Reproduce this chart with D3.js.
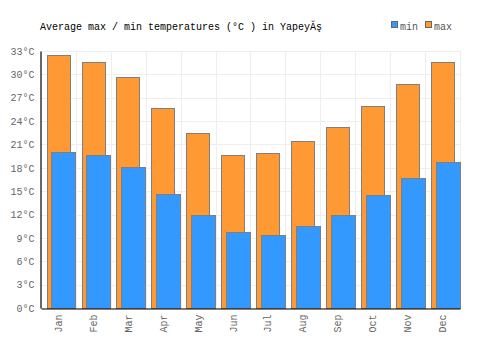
<!DOCTYPE html>
<html>
<head>
<meta charset="utf-8">
<script src="https://cdn.jsdelivr.net/npm/d3@7"></script>
<style>
  body { margin: 0; background: #fff; }
  text { font-family: "Liberation Mono", monospace; }
</style>
</head>
<body>
<div id="chart"></div>
<script>
var months = ["Jan","Feb","Mar","Apr","May","Jun","Jul","Aug","Sep","Oct","Nov","Dec"];
var maxTemps = [32.5, 31.6, 29.7, 25.7, 22.5, 19.7, 19.9, 21.5, 23.2, 25.9, 28.8, 31.6];
var minTemps = [20.0, 19.7, 18.1, 14.7, 11.9, 9.7, 9.35, 10.5, 11.9, 14.5, 16.7, 18.8];
var yTicks = [0, 3, 6, 9, 12, 15, 18, 21, 24, 27, 30, 33];

var width = 500, height = 350;
var margin = {top: 51, right: 40, bottom: 42, left: 41};
var fontFam = "Liberation Mono, monospace";

var svg = d3.select("#chart").append("svg")
  .attr("width", width)
  .attr("height", height);

var x = d3.scaleBand()
  .domain(months)
  .range([margin.left, width - margin.right]);

var y = d3.scaleLinear()
  .domain([0, 33])
  .range([height - margin.bottom, margin.top]);

var bw = x.bandwidth();

// grid
var grid = svg.append("g").attr("stroke", "#eeeeee").attr("stroke-width", 1);
grid.selectAll("line.h").data(yTicks).enter().append("line")
  .attr("x1", margin.left).attr("x2", width - margin.right)
  .attr("y1", function(d) { return Math.round(y(d)) + 0.5; })
  .attr("y2", function(d) { return Math.round(y(d)) + 0.5; });
grid.selectAll("line.v").data(months).enter().append("line")
  .attr("x1", function(d) { return Math.round(x(d) + bw) + 0.5; })
  .attr("x2", function(d) { return Math.round(x(d) + bw) + 0.5; })
  .attr("y1", margin.top).attr("y2", height - margin.bottom);

// max bars (behind)
svg.append("g").selectAll("rect").data(maxTemps).enter().append("rect")
  .attr("x", function(d, i) { return Math.round(x(months[i]) + bw * 0.16) + 0.5; })
  .attr("width", Math.round(bw * 0.67))
  .attr("y", function(d) { return Math.round(y(d)) + 0.5; })
  .attr("height", function(d) { return Math.round(y(0)) - Math.round(y(d)); })
  .attr("fill", "#ff9933")
  .attr("stroke", "#7f7f7f")
  .attr("stroke-width", 1);

// min bars (front)
svg.append("g").selectAll("rect").data(minTemps).enter().append("rect")
  .attr("x", function(d, i) { return Math.round(x(months[i]) + bw * 0.30) + 0.5; })
  .attr("width", Math.round(bw * 0.69))
  .attr("y", function(d) { return Math.round(y(d)) + 0.5; })
  .attr("height", function(d) { return Math.round(y(0)) - Math.round(y(d)); })
  .attr("fill", "#3399ff")
  .attr("stroke", "#7f7f7f")
  .attr("stroke-width", 1);

// axes
var yAxis = svg.append("g")
  .attr("transform", "translate(" + (margin.left - 0.5) + ",0)")
  .call(d3.axisLeft(y).tickValues(yTicks).tickSize(0).tickPadding(6)
    .tickFormat(function(d) { return d + "°C"; }));
yAxis.select(".domain").attr("stroke", "#000").attr("stroke-width", 1.2);
yAxis.selectAll("text").attr("font-size", 10).attr("fill", "#666")
  .attr("font-family", fontFam);

var xAxis = svg.append("g")
  .attr("transform", "translate(0," + (Math.round(y(0)) + 0.5) + ")")
  .call(d3.axisBottom(x).tickSize(0).tickPadding(6));
xAxis.select(".domain").attr("stroke", "#000").attr("stroke-width", 1.2);
xAxis.selectAll("text")
  .attr("font-size", 10).attr("fill", "#666")
  .attr("font-family", fontFam)
  .attr("transform", "rotate(-90)")
  .attr("text-anchor", "end")
  .attr("dy", "0.35em")
  .attr("x", -6)
  .attr("y", 0);

// title
svg.append("text")
  .attr("x", 40).attr("y", 30)
  .attr("font-size", 10).attr("fill", "#000")
  .text("Average max / min temperatures (°C ) in YapeyĂş");

// legend
var legendData = [{name: "min", color: "#3399ff"}, {name: "max", color: "#ff9933"}];
var legend = svg.append("g");
legendData.forEach(function(d, i) {
  var lx = 391 + i * 34;
  legend.append("rect")
    .attr("x", lx + 0.5).attr("y", 21.5)
    .attr("width", 6).attr("height", 6)
    .attr("fill", d.color).attr("stroke", "#666").attr("stroke-width", 1);
  legend.append("text")
    .attr("x", lx + 9).attr("y", 30)
    .attr("font-size", 10).attr("fill", "#555")
    .text(d.name);
});
</script>
</body>
</html>
